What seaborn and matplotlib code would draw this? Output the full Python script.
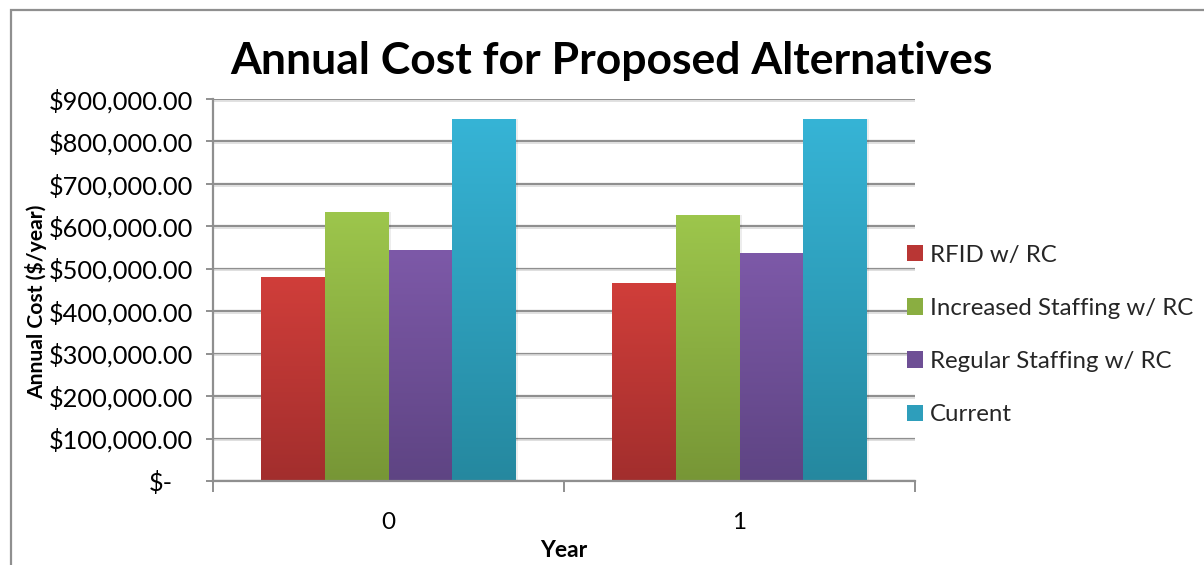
import numpy as np
import pandas as pd
import matplotlib
matplotlib.use("Agg")
import matplotlib.pyplot as plt
import matplotlib.transforms as mtransforms
from matplotlib.colors import to_rgb, LinearSegmentedColormap
from matplotlib.patches import Rectangle, Patch
from matplotlib.ticker import FuncFormatter, FixedLocator
import seaborn as sns

# ---- data ----
years = ["0", "1"]
series = ["RFID w/ RC", "Increased Staffing w/ RC", "Regular Staffing w/ RC", "Current"]
rfid = [480000, 466000]
increased = [634000, 626000]
regular = [544000, 537000]
current = [853000, 853000]
y_ticks = [0, 100000, 200000, 300000, 400000, 500000, 600000, 700000, 800000, 900000]

# gradient colours (top, bottom) per series
top_colors = ["#D03E3A", "#9DC64C", "#7D59A8", "#36B4D6"]
bottom_colors = ["#A22E2D", "#779636", "#5E4483", "#25889F"]

values = [rfid, increased, regular, current]
df = pd.DataFrame(
    [(y, s, v[i]) for s, v in zip(series, values) for i, y in enumerate(years)],
    columns=["Year", "Series", "Cost"],
)

sns.set_theme(style="white")
plt.rcParams["font.family"] = ["Lato", "DejaVu Sans"]

W, H = 1204, 565
fig = plt.figure(figsize=(W / 100, H / 100), dpi=100)
fig.patch.set_facecolor("white")

# chart frame
fig.patches.append(Rectangle((11 / W, -0.1), 1.2, 1 - 10 / H + 0.1, transform=fig.transFigure,
                             fill=False, edgecolor="#8f8f8f", lw=1.6, zorder=0))

ax = fig.add_axes([213 / W, (H - 481) / H, (915 - 213) / W, (481 - 99) / H])
ax.set_facecolor("none")

mid_colors = [tuple((np.array(to_rgb(a)) + np.array(to_rgb(b))) / 2)
              for a, b in zip(top_colors, bottom_colors)]

sns.barplot(data=df, x="Year", y="Cost", hue="Series", hue_order=series, order=years,
            palette=mid_colors, width=0.725, ax=ax, legend=False, zorder=3,
            linewidth=0, saturation=1)

# vertical gradient fill on every bar
for k, cont in enumerate(ax.containers):
    cmap = LinearSegmentedColormap.from_list(f"g{k}", [bottom_colors[k], top_colors[k]])
    grad = np.linspace(0, 1, 256).reshape(-1, 1)
    for bar in cont:
        x0, y0 = bar.get_x(), bar.get_y()
        w, h = bar.get_width(), bar.get_height()
        # soft shadow to the right
        sh = Rectangle((x0 + w, y0), 0.006, h, facecolor="#000000", alpha=0.07,
                       lw=0, zorder=2.5)
        ax.add_patch(sh)
        im = ax.imshow(grad, extent=(x0, x0 + w, y0, y0 + h), origin="lower",
                       aspect="auto", cmap=cmap, zorder=3.1, interpolation="bilinear")
        im.set_clip_path(bar)
ax.set_xlim(-0.5, 1.5)
ax.set_ylim(0, 900000)

# grid
ax.yaxis.set_major_locator(FixedLocator(y_ticks))
ax.grid(axis="y", color="#8f8f8f", lw=1.6, zorder=1)
ax.grid(axis="x", visible=False)
for yv in y_ticks[1:]:
    ax.axhline(yv - 4000, color="#dcdcdc", lw=1.2, zorder=0.9)


def money(v, pos):
    if v == 0:
        return "$-"
    return f"${v:,.2f}"


ax.yaxis.set_major_formatter(FuncFormatter(money))
ax.tick_params(axis="y", which="major", length=5, width=1.4, color="#8f8f8f",
               direction="out", labelsize=18.3, pad=9.4, left=True, labelcolor="black")
zero_lbl = ax.get_yticklabels()[0]
zero_lbl.set_transform(zero_lbl.get_transform() +
                       mtransforms.ScaledTranslation(-20 / 100, 0, fig.dpi_scale_trans))

ax.xaxis.set_minor_locator(FixedLocator([-0.5, 0.5, 1.5]))
ax.tick_params(axis="x", which="major", length=0, labelsize=17.5, pad=22, labelcolor="black")
ax.tick_params(axis="x", which="minor", length=8, width=1.4, color="#8f8f8f",
               direction="out", bottom=True)

for s in ["top", "right"]:
    ax.spines[s].set_visible(False)
for s in ["left", "bottom"]:
    ax.spines[s].set_color("#8f8f8f")
    ax.spines[s].set_linewidth(1.6)
    ax.spines[s].set_zorder(4)

ax.set_xlabel("Year", fontsize=16.5, fontweight="bold", color="black")
ax.xaxis.set_label_coords(0.5, -0.155)
ax.set_ylabel("Annual Cost ($/year)", fontsize=15.2, fontweight="bold", color="black")
ax.yaxis.set_label_coords(-0.236, 0.469)

fig.text(611 / W, 1 - 61 / H, "Annual Cost for Proposed Alternatives", fontsize=32,
         fontweight="bold", ha="center", va="center", color="black")

handles = [Patch(facecolor=c, edgecolor="none") for c in mid_colors]
leg = fig.legend(handles, series, loc="upper left", bbox_to_anchor=(897 / W, 1 - 235 / H),
                 frameon=False, fontsize=17.3, handlelength=0.67, handleheight=0.67,
                 handletextpad=0.3, labelspacing=1.34, borderaxespad=0, borderpad=0.4)

fig.savefig("out.png", dpi=100, facecolor="white")
